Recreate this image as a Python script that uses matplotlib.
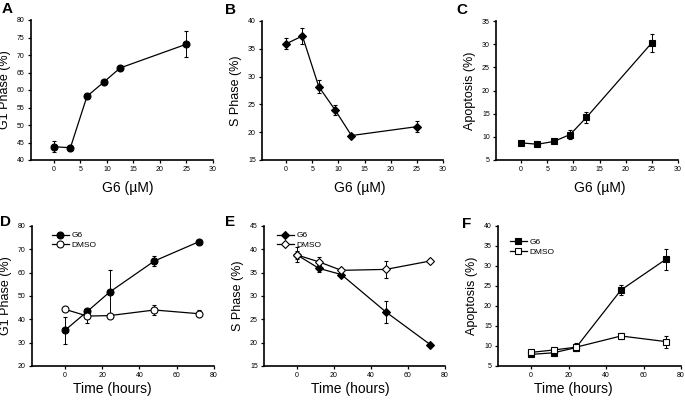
import matplotlib
matplotlib.use('Agg')
import matplotlib.pyplot as plt

plt.rcParams['font.family'] = ['Liberation Sans', 'DejaVu Sans']

# dose response (top row)
conc = [0, 3.125, 6.25, 9.375, 12.5, 25]
g1_conc = [43.8, 43.5, 58.2, 62.2, 66.3, 73.1]
g1_conc_err = [1.5, 0.8, 0.5, 0.5, 0.5, 3.7]
s_conc = [35.9, 37.3, 28.2, 24.0, 19.4, 21.0]
s_conc_err = [1.0, 1.4, 1.2, 0.9, 0.3, 1.0]
apo_conc = [8.7, 8.4, 9.0, 10.5, 14.2, 30.3]
apo_conc_err = [0.5, 0.4, 0.4, 1.0, 1.2, 2.0]

# time course (bottom row)
hours = [0, 12, 24, 48, 72]
g1_g6 = [35.3, 43.4, 51.7, 65.0, 73.3]
g1_g6_err = [5.8, 1.0, 9.4, 2.0, 0.8]
g1_dmso = [44.3, 41.4, 41.6, 44.0, 42.4]
g1_dmso_err = [0.6, 2.9, 0.8, 2.0, 1.5]
s_g6 = [38.8, 35.9, 34.6, 26.6, 19.6]
s_g6_err = [0.8, 0.7, 0.4, 2.3, 0.4]
s_dmso = [38.8, 37.3, 35.5, 35.7, 37.5]
s_dmso_err = [1.6, 1.0, 0.4, 1.8, 0.4]
apo_g6 = [7.9, 8.3, 9.6, 24.0, 31.7]
apo_g6_err = [0.4, 0.4, 0.5, 1.2, 2.6]
apo_dmso = [8.4, 9.0, 9.7, 12.5, 11.1]
apo_dmso_err = [0.4, 0.5, 1.0, 0.7, 1.5]

W, H = 685, 404
fig = plt.figure(figsize=(W / 100, H / 100), dpi=100)


def make_ax(left, right, top, bottom):
    return fig.add_axes([left / W, 1 - bottom / H, (right - left) / W, (bottom - top) / H])


def style(ax, xlim, xticks, ylim, yticks, ylabel, xlabel, letter, let_xy, xlab_xy):
    ax.set_xlim(*xlim)
    ax.set_ylim(*ylim)
    ax.set_xticks(xticks)
    ax.set_yticks(yticks)
    for s in ['top', 'right']:
        ax.spines[s].set_visible(False)
    for s in ['left', 'bottom']:
        ax.spines[s].set_linewidth(1.2)
    ax.tick_params(direction='out', length=2.5, width=0.9, labelsize=5, pad=2)
    ax.set_ylabel(ylabel, fontsize=9)
    ax.set_xlabel(xlabel, fontsize=10)
    ax.yaxis.set_label_coords(-20 / 182, 0.5)
    ax.xaxis.set_label_coords(*xlab_xy)
    ax.text(let_xy[0], let_xy[1], letter, transform=ax.transAxes, fontsize=11,
            fontweight='bold', ha='left', va='top')


def series(ax, x, y, err, marker, ms, face, label=None):
    return ax.errorbar(x, y, yerr=err, color='black', marker=marker, markersize=ms,
                       markerfacecolor=face, markeredgecolor='black', markeredgewidth=0.8,
                       linewidth=0.9, elinewidth=0.7, capsize=1.5, capthick=0.7, label=label)


def legend(ax, x, y):
    handles = [c[0] for c in ax.containers]
    labels = [c.get_label() for c in ax.containers]
    ax.legend(handles, labels, loc='upper left', bbox_to_anchor=(x, y), frameon=False,
              fontsize=6, handlelength=2.0, handletextpad=0.3, labelspacing=0.25,
              borderpad=0, borderaxespad=0)


# A
ax = make_ax(31, 213, 20, 160)
series(ax, conc, g1_conc, g1_conc_err, 'o', 5, 'black')
style(ax, (-4.3, 30), range(0, 31, 5), (40, 80), range(40, 81, 5),
      'G1 Phase (%)', 'G6 (µM)', 'A', (-0.16, 1.13), (0.53, -0.15))

# B
ax = make_ax(262, 443, 21, 160)
series(ax, conc, s_conc, s_conc_err, 'D', 4.4, 'black')
style(ax, (-4.6, 30), range(0, 31, 5), (15, 40), range(15, 41, 5),
      'S Phase (%)', 'G6 (µM)', 'B', (-0.204, 1.13), (0.54, -0.15))

# C
ax = make_ax(496, 678, 21, 160)
series(ax, conc, apo_conc, apo_conc_err, 's', 4.8, 'black')
style(ax, (-4.8, 30), range(0, 31, 5), (5, 35), range(5, 36, 5),
      'Apoptosis (%)', 'G6 (µM)', 'C', (-0.22, 1.13), (0.57, -0.15))

# D
ax = make_ax(32, 214, 226, 366)
series(ax, hours, g1_g6, g1_g6_err, 'o', 5, 'black', 'G6')
series(ax, hours, g1_dmso, g1_dmso_err, 'o', 5, 'white', 'DMSO')
legend(ax, 0.11, 0.96)
style(ax, (-17.7, 80), range(0, 81, 20), (20, 80), range(20, 81, 10),
      'G1 Phase (%)', 'Time (hours)', 'D', (-0.176, 1.08), (0.44, -0.115))

# E
ax = make_ax(264, 445, 226, 366)
series(ax, hours, s_g6, s_g6_err, 'D', 4.4, 'black', 'G6')
series(ax, hours, s_dmso, s_dmso_err, 'D', 4.4, 'white', 'DMSO')
legend(ax, 0.072, 0.96)
style(ax, (-17.8, 80), range(0, 81, 20), (15, 45), range(15, 46, 5),
      'S Phase (%)', 'Time (hours)', 'E', (-0.215, 1.08), (0.475, -0.115))

# F
ax = make_ax(498, 681, 226, 366)
series(ax, hours, apo_g6, apo_g6_err, 's', 4.8, 'black', 'G6')
series(ax, hours, apo_dmso, apo_dmso_err, 's', 4.8, 'white', 'DMSO')
legend(ax, 0.066, 0.915)
style(ax, (-17.6, 80), range(0, 81, 20), (5, 40), range(5, 41, 5),
      'Apoptosis (%)', 'Time (hours)', 'F', (-0.197, 1.065), (0.41, -0.115))

fig.savefig('out.png', dpi=100)
